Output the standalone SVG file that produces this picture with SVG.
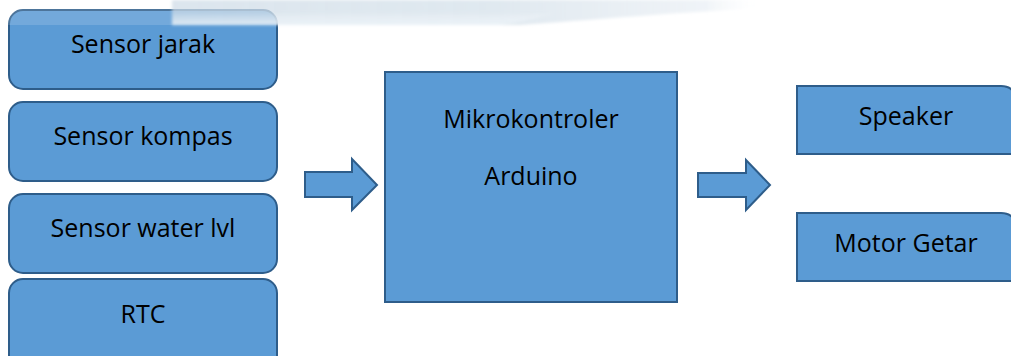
<svg xmlns="http://www.w3.org/2000/svg" width="1011" height="356" viewBox="0 0 1011 356">
  <style>
    .box { fill: #5B9BD5; stroke: #2E5D8A; stroke-width: 2; }
    .arrow { fill: #5B9BD5; stroke: #2E5D8A; stroke-width: 2; stroke-linejoin: miter; }
    .label { font-family: "Open Sans", "Liberation Sans", sans-serif; font-size: 25px; fill: #000; text-anchor: middle; }
  </style>
  <defs>
    <linearGradient id="wash" x1="0" y1="0" x2="1" y2="0">
      <stop offset="0" stop-color="#cddbe6" stop-opacity="0.7"/>
      <stop offset="0.55" stop-color="#d5e1ea" stop-opacity="0.75"/>
      <stop offset="0.9" stop-color="#dfe8f0" stop-opacity="0.5"/>
      <stop offset="1" stop-color="#ffffff" stop-opacity="0"/>
    </linearGradient>
    <linearGradient id="fadeDown" x1="0" y1="0" x2="0" y2="1">
      <stop offset="0" stop-color="#ffffff" stop-opacity="0"/>
      <stop offset="1" stop-color="#eef6fb" stop-opacity="0.7"/>
    </linearGradient>
    <filter id="soft" x="-5%" y="-50%" width="110%" height="200%">
      <feGaussianBlur stdDeviation="1.5"/>
    </filter>
  </defs>

  <rect width="1011" height="356" fill="#ffffff"/>

  <!-- input blocks -->
  <g id="sensor-jarak">
    <rect class="box" x="9" y="10" width="268" height="79" rx="14"/>
    <text class="label" x="143" y="53">Sensor jarak</text>
  </g>
  <g id="sensor-kompas">
    <rect class="box" x="9" y="102" width="268" height="79" rx="14"/>
    <text class="label" x="143" y="145">Sensor kompas</text>
  </g>
  <g id="sensor-water">
    <rect class="box" x="9" y="194" width="268" height="79" rx="14"/>
    <text class="label" x="143" y="237">Sensor water lvl</text>
  </g>
  <g id="rtc">
    <rect class="box" x="9" y="279" width="268" height="90" rx="14"/>
    <text class="label" x="143" y="323">RTC</text>
  </g>

  <!-- controller -->
  <g id="mikrokontroler">
    <rect class="box" x="385" y="72" width="292" height="230"/>
    <text class="label" x="531" y="128">Mikrokontroler</text>
    <text class="label" x="531" y="185">Arduino</text>
  </g>

  <!-- output blocks: only the top-right corner is rounded -->
  <g id="speaker">
    <path class="box" d="M797,86 H1001 Q1015,86 1015,100 V154 H797 Z"/>
    <text class="label" x="906" y="125">Speaker</text>
  </g>
  <g id="motor-getar">
    <path class="box" d="M797,213 H1001 Q1015,213 1015,227 V281 H797 Z"/>
    <text class="label" x="906" y="252">Motor Getar</text>
  </g>

  <!-- block arrows -->
  <g id="connectors">
    <path class="arrow" d="M305,172 H352 V159 L377,185 L352,210 V197 H305 Z"/>
    <path class="arrow" d="M698,173 H746 V160 L770,185 L746,210 V197 H698 Z"/>
  </g>

  <!-- faint banner wash along the top edge -->
  <g id="banner">
    <rect x="0" y="0" width="1011" height="25" fill="#ffffff" opacity="0.15"/>
    <g filter="url(#soft)">
      <path d="M172,0 H765 V8 C680,12 590,20 520,25 H172 Z" fill="url(#wash)"/>
      <path d="M172,12 H560 C540,18 520,22 500,25 H172 Z" fill="url(#fadeDown)"/>
    </g>
  </g>
</svg>
